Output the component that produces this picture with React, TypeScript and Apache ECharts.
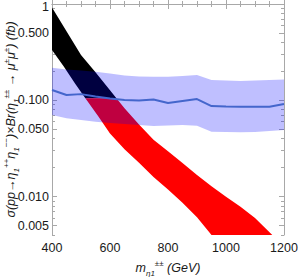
import React, { useEffect, useRef } from 'react';
import * as echarts from 'echarts';

// ---- axes ----
const xMin = 400;
const xMax = 1200;
const xInterval = 200;
const yMin = 0.004;
const yMax = 1;
const yTickValues = [1, 0.5, 0.1, 0.05, 0.01, 0.005];
const yTickLabels = ['1', '0.500', '0.100', '0.050', '0.010', '0.005'];
const yMinorValues = [0.9, 0.8, 0.7, 0.6, 0.4, 0.3, 0.2, 0.09, 0.08, 0.07, 0.06, 0.04, 0.03, 0.02, 0.009, 0.008, 0.007, 0.006, 0.004];

// ---- signal band (scan points), upper and lower edges ----
const bandUpperMass = [400, 450, 500, 550, 600, 650, 700, 750, 800, 850, 900, 950, 1000, 1050, 1100, 1150, 1180];
const bandUpperValue = [0.92, 0.52, 0.296, 0.196, 0.127, 0.0826, 0.056, 0.039, 0.0296, 0.0224, 0.0168, 0.0128, 0.01, 0.00785, 0.006, 0.00426, 0.0035];
const bandLowerMass = [400, 440, 480, 520, 560, 600, 650, 700, 750, 800, 850, 900, 950, 980];
const bandLowerValue = [0.333, 0.2255, 0.149, 0.1, 0.068, 0.0452, 0.031, 0.0225, 0.016, 0.0119, 0.00867, 0.00612, 0.004, 0.0033];
const colourSplitValue = 0.105;

// ---- experimental limit (central line and band) ----
const limitMass = [400, 450, 500, 550, 600, 650, 700, 750, 800, 850, 900, 950, 1000, 1050, 1100, 1150, 1200];
const limitCentral = [0.128, 0.1135, 0.116, 0.1095, 0.1044, 0.1007, 0.0995, 0.1019, 0.0938, 0.0984, 0.1031, 0.0872, 0.0862, 0.0858, 0.0858, 0.0858, 0.0916];
const limitUpper = [0.218, 0.209, 0.204, 0.198, 0.19, 0.181, 0.177, 0.176, 0.176, 0.179, 0.183, 0.1625, 0.1606, 0.1586, 0.1606, 0.1625, 0.165];
const limitLower = [0.0704, 0.065, 0.0624, 0.06, 0.0581, 0.0567, 0.0554, 0.0541, 0.0547, 0.0554, 0.0545, 0.0472, 0.0469, 0.0465, 0.0469, 0.048, 0.0492];

const L = (v: number) => Math.log10(v);

function clipPoly(pts: number[][], c: number, keepAbove: boolean): number[][] {
  const out: number[][] = [];
  for (let i = 0; i < pts.length; i++) {
    const a = pts[i];
    const b = pts[(i + 1) % pts.length];
    const ina = keepAbove ? a[1] >= c : a[1] <= c;
    const inb = keepAbove ? b[1] >= c : b[1] <= c;
    if (ina) out.push(a);
    if (ina !== inb) {
      const t = (c - a[1]) / (b[1] - a[1]);
      out.push([a[0] + t * (b[0] - a[0]), c]);
    }
  }
  return out;
}

const FONT = 'Liberation Sans';
const AXIS_COLOR = '#a8a8a8';
const LABEL_COLOR = '#1a1a1a';

export default function App() {
  const ref = useRef<HTMLDivElement>(null);
  useEffect(() => {
    document.body.style.margin = '0';
    if (!ref.current) return;
    const chart = echarts.init(ref.current, null, { renderer: 'svg' });

    const bandPoly: number[][] = [];
    bandUpperMass.forEach((m, i) => bandPoly.push([m, L(bandUpperValue[i])]));
    for (let i = bandLowerMass.length - 1; i >= 0; i--) bandPoly.push([bandLowerMass[i], L(bandLowerValue[i])]);
    const bandInRange = clipPoly(bandPoly, L(yMin), true);
    const blackPoly = clipPoly(bandInRange, L(colourSplitValue), true);
    const redPoly = clipPoly(bandInRange, L(colourSplitValue), false);

    const limitPoly: number[][] = [];
    limitMass.forEach((m, i) => limitPoly.push([m, L(limitUpper[i])]));
    for (let i = limitMass.length - 1; i >= 0; i--) limitPoly.push([limitMass[i], L(limitLower[i])]);

    const polySeries = (poly: number[][], fill: string) => ({
      type: 'custom',
      xAxisIndex: 0,
      yAxisIndex: 0,
      clip: true,
      silent: true,
      data: [[xMin, 0]],
      renderItem: (_p: any, api: any) => ({
        type: 'polygon',
        shape: { points: poly.map((p) => api.coord(p)) },
        style: { fill, stroke: null },
      }),
    });

    const yLog = yTickValues.map(L);
    const yMinorLog = yMinorValues.map(L);
    const fmtY = (v: number) => {
      const idx = yLog.findIndex((t) => Math.abs(t - v) < 1e-6);
      if (idx < 0) return '';
      return idx === 0 ? '{top|' + yTickLabels[idx] + '}' : yTickLabels[idx];
    };

    const scriptBase = { fontFamily: FONT, color: LABEL_COLOR, fontStyle: 'italic' };
    const rich = {
      i: { ...scriptBase, fontSize: 12.5, lineHeight: 18 },
      sb: { ...scriptBase, fontSize: 8, lineHeight: 11, verticalAlign: 'bottom' },
      sp: { ...scriptBase, fontSize: 8, lineHeight: 10, verticalAlign: 'top' },
    };

    const yBase = (position: string, major: boolean, values: number[]) => ({
      type: 'value',
      min: L(yMin),
      max: L(yMax),
      position,
      axisLine: { show: major, lineStyle: { color: AXIS_COLOR, width: 1 } },
      axisTick: { show: true, inside: true, length: major ? 5 : 3, customValues: values, lineStyle: { color: AXIS_COLOR } },
      splitLine: { show: false },
    });

    const xBase = (position: string) => ({
      type: 'value',
      min: xMin,
      max: xMax,
      interval: xInterval,
      position,
      axisLine: { show: true, lineStyle: { color: AXIS_COLOR, width: 1 } },
      axisTick: { show: true, inside: true, length: 5, lineStyle: { color: AXIS_COLOR } },
      minorTick: { show: true, splitNumber: 4, length: 3, lineStyle: { color: AXIS_COLOR } },
      splitLine: { show: false },
      minorSplitLine: { show: false },
    });

    chart.setOption({
      animation: false,
      grid: { left: 52, right: 14, top: 4, bottom: 42, containLabel: false, outerBoundsMode: 'none' },
      xAxis: [
        {
          ...xBase('bottom'),
          axisLabel: { show: true, color: LABEL_COLOR, fontSize: 12.5, fontFamily: FONT, margin: 6, showMinLabel: true, showMaxLabel: true, formatter: (v: number) => String(v) },
          name: '{i|m}{sb|η}{sb|1}{sp|±±}{i| (GeV)}',
          nameLocation: 'middle',
          nameGap: 24,
          nameMoveOverlap: false,
          nameTextStyle: { rich },
        },
        { ...xBase('top'), axisLabel: { show: false } },
      ],
      yAxis: [
        {
          ...yBase('left', true, yLog),
          axisLabel: {
            show: true,
            customValues: yLog,
            formatter: fmtY,
            color: LABEL_COLOR,
            fontSize: 12.5,
            fontFamily: FONT,
            margin: 3,
            rich: { top: { fontSize: 12.5, fontFamily: FONT, color: LABEL_COLOR, padding: [5, 0, 0, 0] } },
          },
          name: '{i|σ(pp→η}{sb|1}{sp|++}{i|η}{sb|1}{sp|−−}{i|)×Br(η}{sb|1}{sp|±±}{i| → μ}{sp|±}{i|μ}{sp|±}{i|) (fb)}',
          nameLocation: 'middle',
          nameRotate: 90,
          nameGap: 32,
          nameMoveOverlap: false,
          nameTextStyle: { rich },
        },
        { ...yBase('left', false, yMinorLog), axisLabel: { show: false } },
        { ...yBase('right', true, yLog), axisLabel: { show: false } },
        { ...yBase('right', false, yMinorLog), axisLabel: { show: false } },
      ],
      series: [
        polySeries(blackPoly, '#000000'),
        polySeries(redPoly, '#ff0000'),
        polySeries(limitPoly, 'rgba(0,0,255,0.25)'),
        {
          type: 'line',
          xAxisIndex: 0,
          yAxisIndex: 0,
          symbol: 'none',
          silent: true,
          lineStyle: { color: '#4466cc', width: 2 },
          data: limitMass.map((m, i) => [m, L(limitCentral[i])]),
        },
      ],
    });
    return () => chart.dispose();
  }, []);
  return <div ref={ref} style={{ width: 298, height: 277 }} />;
}
